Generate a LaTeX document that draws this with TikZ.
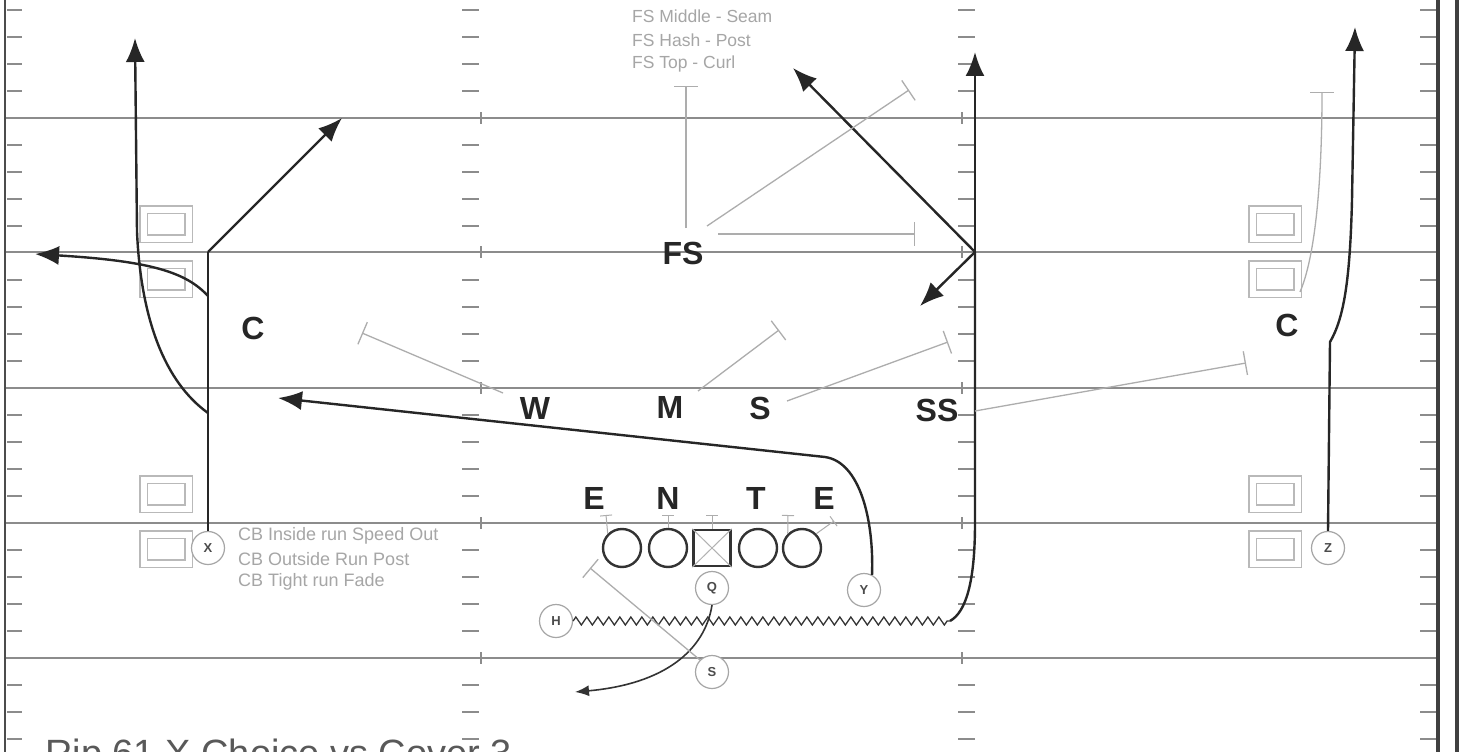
\documentclass[tikz,border=0pt]{standalone}
\usepackage{fontspec}
\setmainfont{Liberation Sans}
\usetikzlibrary{arrows.meta,decorations.pathmorphing}
\definecolor{yd}{gray}{0.55}
\definecolor{bl}{gray}{0.68}
\begin{document}
\begin{tikzpicture}[x=1pt,y=-1pt,
  yard/.style={draw=yd, line width=1.6},
  tk/.style={draw=yd, line width=1.4},
  rt/.style={draw=black!85, line width=2.4, -{Latex[length=24,width=19]}},
  rtline/.style={draw=black!85, line width=2.4},
  blk/.style={draw=bl, line width=1.3, -{Bar[width=24,line width=1.3]}},
  blks/.style={draw=bl, line width=1, -{Bar[width=12,line width=1]}},
  plyr/.style={circle, draw=gray!70, line width=1.2, minimum size=33, inner sep=0, fill=white,
    font=\bfseries\fontsize{13}{13}\selectfont, text=black!70},
  oline/.style={circle, draw=black!80, line width=2.4, minimum size=38, inner sep=0},
  dlab/.style={font=\bfseries\fontsize{32}{32}\selectfont, text=black!85, inner sep=0},
  note/.style={font=\fontsize{18}{18}\selectfont, text=gray!70, inner sep=0, anchor=west},
  rbox/.style={rectangle, draw=gray!55, line width=1.4, double=white, double distance=6,
    minimum width=45, minimum height=29, inner sep=0},
]
\useasboundingbox (0,0) rectangle (1460,752);
\fill[white] (0,0) rectangle (1460,752);

% yard lines and hash marks
\foreach \y in {118,252,388,523,658} {
  \draw[yard] (6,\y) -- (1437,\y);
  \draw[tk] (481,\y-6) -- (481,\y+6);
  \draw[tk] (962,\y-6) -- (962,\y+6);
}
\foreach \y in {10,37,64,91,145,172,199,226,280,307,334,361,415,442,469,496,550,577,604,631,685,712,739} {
  \draw[tk] (7,\y) -- (22,\y);
  \draw[tk] (1420,\y) -- (1437,\y);
  \draw[tk] (462,\y) -- (479,\y);
  \draw[tk] (958,\y) -- (975,\y);
}
% sidelines and border
\draw[draw=black!70, line width=2] (5,0) -- (5,752);
\draw[draw=black!75, line width=3.5] (1438,0) -- (1438,752);
\draw[draw=black!75, line width=4] (1457,0) -- (1457,752);

% receiver alignment boxes
\node[rbox] (bl1) at (166,224) {};
\node[rbox] (bl2) at (166,279) {};
\node[rbox] (bl3) at (166,494) {};
\node[rbox] (bl4) at (166,549) {};
\node[rbox] (br1) at (1275,224) {};
\node[rbox] (br2) at (1275,279) {};
\node[rbox] (br3) at (1275,494) {};
\node[rbox] (br4) at (1275,549) {};

% offense
\node[plyr] (X) at (208,548) {X};
\node[plyr] (Z) at (1328,548) {Z};
\node[plyr] (Q) at (712,588) {Q};
\node[plyr] (Y) at (864,590) {Y};
\node[plyr] (H) at (556,621) {H};
\node[plyr] (S2) at (712,672) {S};
\node[oline] (LT) at (622,548) {};
\node[oline] (LG) at (668,548) {};
\node[rectangle, draw=black!80, line width=2.4, minimum width=37, minimum height=36, inner sep=0] (C0) at (712,548) {};
\draw[draw=gray!60, line width=1] (C0.north west) -- (C0.south east) (C0.north east) -- (C0.south west);
\node[oline] (RG) at (758,548) {};
\node[oline] (RT) at (802,548) {};

% defense labels
\node[dlab] (FS) at (683,253) {FS};
\node[dlab] (W) at (535,408) {W};
\node[dlab] (M) at (670,407) {M};
\node[dlab] (S) at (760,408) {S};
\node[dlab] (SS) at (937,410) {SS};
\node[dlab] (CL) at (253,328) {C};
\node[dlab] (CR) at (1287,325) {C};
\node[dlab] (DE1) at (594,498) {E};
\node[dlab] (NT) at (668,498) {N};
\node[dlab] (DT) at (756,498) {T};
\node[dlab] (DE2) at (824,498) {E};

% notes
\node[note, font=\fontsize{17.5}{17.5}\selectfont] (n1) at (632,16) {FS Middle - Seam};
\node[note, font=\fontsize{17.5}{17.5}\selectfont] (n2) at (632,40) {FS Hash - Post};
\node[note, font=\fontsize{17.5}{17.5}\selectfont] (n3) at (632,64) {FS Top - Curl};
\node[note] (c1) at (238,536) {CB Inside run Speed Out};
\node[note] (c2) at (238,559) {CB Outside Run Post};
\node[note] (c3) at (238,582) {CB Tight run Fade};
\node[anchor=base west, inner sep=0, font=\fontsize{38}{38}\selectfont, text=black!65] (title) at (45,766) {Rip 61 X Choice vs Cover 3};

% coordinates of route points
\coordinate (xb) at (208,252);
\coordinate (xpost) at (342,118);
\coordinate (xo) at (208,296);
\coordinate (xout) at (35,254);
\coordinate (xf) at (208,413);
\coordinate (xfade) at (135,38);
\coordinate (yc) at (825,457);
\coordinate (ytip) at (278,398);
\coordinate (hz) at (950,621);
\coordinate (hb) at (975,252);
\coordinate (htop) at (975,52);
\coordinate (hpost) at (793,68);
\coordinate (hout) at (920,306);
\coordinate (zb) at (1330,342);
\coordinate (ztip) at (1355,27);
\coordinate (stip) at (575,692);

% X routes
\draw[rtline] (X.north) -- (xb);
\draw[rt] (xb) -- (xpost);
\draw[rt] (xo) .. controls (186,272) and (150,261) .. (xout);
\draw[rt] (xf) .. controls (165,382) and (141,320) .. (137,232) -- (xfade);
% Y route
\draw[rt] (Y.62) .. controls (874,520) and (860,462) .. (yc) -- (ytip);
% H motion and routes
\draw[draw=black!80, line width=1.3, decorate, decoration={zigzag, segment length=11, amplitude=4}] (H.east) -- (hz);
\draw[rtline] (hz) .. controls (966,612) and (975,582) .. (975,523) -- (hb);
\draw[rt] (hb) -- (htop);
\draw[rt] (hb) -- (hpost);
\draw[rt] (hb) -- (hout);
% Z route
\draw[rt] (Z.north) -- (zb) .. controls (1344,318) and (1350,280) .. (1352,200) -- (ztip);
% back route
\draw[draw=black!80, line width=1.6, -{Latex[length=14,width=11]}] (Q.south) .. controls (705,650) and (665,684) .. (stip);

% defensive reads (gray)
\draw[blk] (503,393) -- (362,333);
\draw[blk] (698,391) -- (779,330);
\draw[blk] (787,401) -- (948,342);
\draw[blk] (975,411) -- (1246,363);
\draw[blk] (686,228) -- (686,86);
\draw[blk] (707,226) -- (909,90);
\draw[blk] (718,234) -- (915,234);
\draw[blk] (1300,292) .. controls (1318,250) and (1322,160) .. (1322,92);
\draw[blk] (S2.north west) -- (590,568);
% line blocks
\draw[blks] (LT.north west) -- (606,515);
\draw[blks] (LG.north) -- (668,515);
\draw[blks] (C0.north) -- (712,515);
\draw[blks] (RT.north west) -- (788,515);
\draw[blks] (RT.north east) -- (834,521);
\end{tikzpicture}
\end{document}
